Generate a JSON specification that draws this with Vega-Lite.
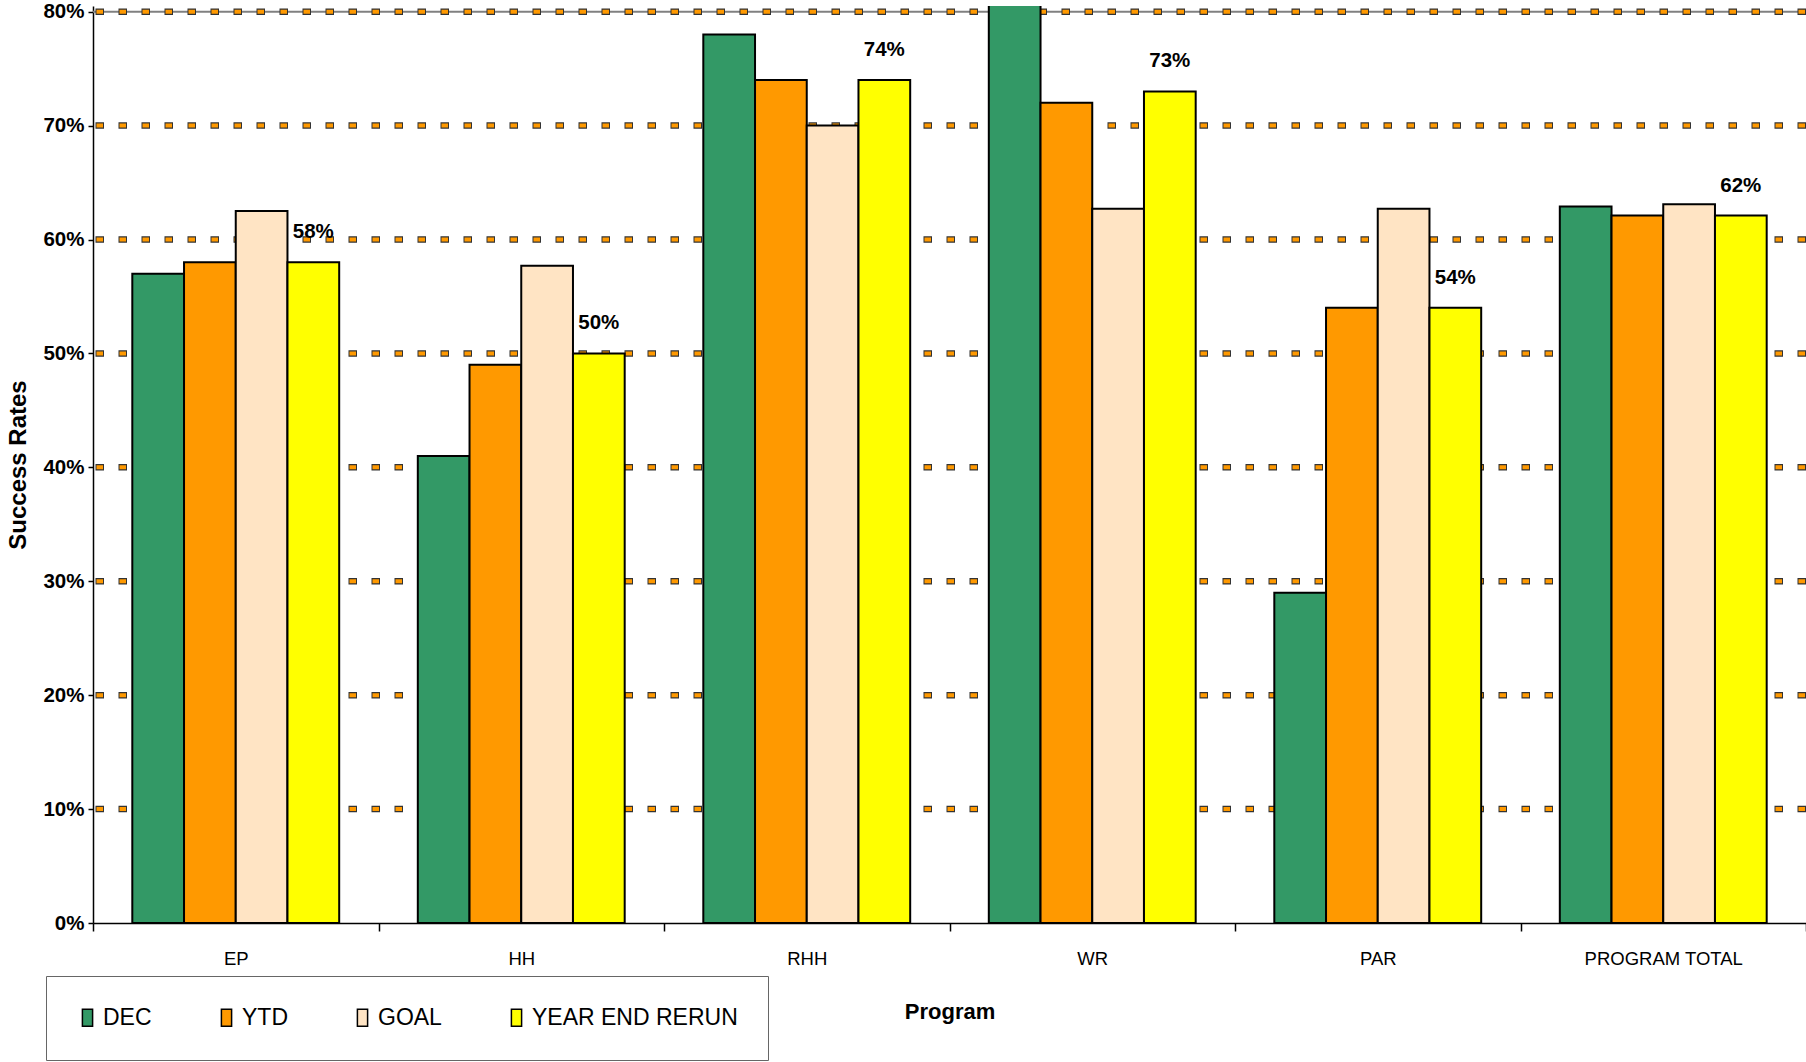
{
  "$schema": "https://vega.github.io/schema/vega-lite/v6.json",
  "autosize": {"type": "none"},
  "width": 1713,
  "height": 917,
  "padding": {"left": 93, "top": 6, "right": 0, "bottom": 139},
  "background": "white",
  "config": {
    "view": {"stroke": null},
    "font": "Liberation Sans"
  },
  "layer": [
    {
      "data": {"values": [{"v": 0.8}]},
      "mark": {"type": "rule", "color": "#808080", "strokeWidth": 2},
      "encoding": {"y": {"field": "v", "type": "quantitative"}}
    },
    {
      "data": {"values": [{"v": 0.1}, {"v": 0.2}, {"v": 0.3}, {"v": 0.4}, {"v": 0.5}, {"v": 0.6}, {"v": 0.7}, {"v": 0.8}]},
      "mark": {"type": "rule", "color": "#333333", "strokeWidth": 6.5, "strokeDash": [8.5, 14.5]},
      "encoding": {"y": {"field": "v", "type": "quantitative"}}
    },
    {
      "data": {"values": [{"v": 0.1}, {"v": 0.2}, {"v": 0.3}, {"v": 0.4}, {"v": 0.5}, {"v": 0.6}, {"v": 0.7}, {"v": 0.8}]},
      "mark": {"type": "rule", "color": "#FF9900", "strokeWidth": 4, "strokeDash": [6.5, 16.5], "strokeDashOffset": -1},
      "encoding": {"y": {"field": "v", "type": "quantitative"}}
    },
    {
      "data": {"name": "bars"},
      "mark": {"type": "bar", "stroke": "black", "strokeWidth": 2, "clip": true},
      "encoding": {
        "x": {
          "field": "program", "type": "nominal", "sort": ["EP", "HH", "RHH", "WR", "PAR", "PROGRAM TOTAL"],
          "scale": {"paddingInner": 0, "paddingOuter": 0},
          "axis": {
            "title": "Program", "titleFont": "Liberation Sans", "titleFontWeight": "bold", "titleFontSize": 22, "titlePadding": 34,
            "labelFont": "Liberation Sans", "labelFontSize": 18.5, "labelAngle": 0, "labelColor": "black", "labelPadding": 18, "labelLimit": 0,
            "tickBand": "extent", "tickSize": 8, "tickColor": "black", "tickWidth": 1.5,
            "domainColor": "black", "domainWidth": 1.5, "titleColor": "black"
          }
        },
        "xOffset": {"field": "series", "type": "nominal", "sort": ["DEC", "YTD", "GOAL", "YEAR END RERUN"], "scale": {"paddingInner": 0, "paddingOuter": 0.76}},
        "y": {
          "field": "value", "type": "quantitative",
          "scale": {"domain": [0, 0.805], "nice": false, "zero": true},
          "axis": {
            "title": "Success Rates", "titleFont": "Liberation Sans", "titleFontWeight": "bold", "titleFontSize": 24, "titlePadding": 12, "titleColor": "black",
            "values": [0, 0.1, 0.2, 0.3, 0.4, 0.5, 0.6, 0.7, 0.8], "format": ".0%",
            "labelFont": "Liberation Sans", "labelFontWeight": "bold", "labelFontSize": 20.5, "labelColor": "black", "labelPadding": 4,
            "grid": false, "tickSize": 5, "tickColor": "black", "tickWidth": 1.5, "domainColor": "black", "domainWidth": 1.5
          }
        },
        "color": {
          "field": "series", "type": "nominal",
          "scale": {"domain": ["DEC", "YTD", "GOAL", "YEAR END RERUN"], "range": ["#339966", "#FF9900", "#FFE4C4", "#FFFF00"]},
          "legend": {
            "title": null, "orient": "none", "legendX": -47, "legendY": 970, "direction": "horizontal", "columns": 4,
            "padding": 30, "fillColor": "white", "strokeColor": "#666666",
            "symbolType": "M-0.6,-1H0.6V1H-0.6Z", "symbolSize": 289, "symbolStrokeColor": "black", "symbolStrokeWidth": 1.5, "symbolOpacity": 1,
            "labelFont": "Liberation Sans", "labelFontSize": 23, "labelColor": "black", "labelOffset": 4, "columnPadding": 63, "labelLimit": 0
          }
        }
      }
    },
    {
      "data": {"name": "bars"},
      "transform": [{"filter": "datum.series === 'YEAR END RERUN'"}],
      "mark": {"type": "text", "baseline": "bottom", "dy": -20, "font": "Liberation Sans", "fontWeight": "bold", "fontSize": 20.5, "color": "black"},
      "encoding": {
        "x": {"field": "program", "type": "nominal", "sort": ["EP", "HH", "RHH", "WR", "PAR", "PROGRAM TOTAL"]},
        "xOffset": {"field": "series", "type": "nominal", "sort": ["DEC", "YTD", "GOAL", "YEAR END RERUN"]},
        "y": {"field": "value", "type": "quantitative"},
        "text": {"field": "value", "type": "quantitative", "format": ".0%"}
      }
    }
  ],
  "datasets": {
    "bars": [
      {"program": "EP", "series": "DEC", "value": 0.57},
      {"program": "EP", "series": "YTD", "value": 0.58},
      {"program": "EP", "series": "GOAL", "value": 0.625},
      {"program": "EP", "series": "YEAR END RERUN", "value": 0.58},
      {"program": "HH", "series": "DEC", "value": 0.41},
      {"program": "HH", "series": "YTD", "value": 0.49},
      {"program": "HH", "series": "GOAL", "value": 0.577},
      {"program": "HH", "series": "YEAR END RERUN", "value": 0.50},
      {"program": "RHH", "series": "DEC", "value": 0.78},
      {"program": "RHH", "series": "YTD", "value": 0.74},
      {"program": "RHH", "series": "GOAL", "value": 0.70},
      {"program": "RHH", "series": "YEAR END RERUN", "value": 0.74},
      {"program": "WR", "series": "DEC", "value": 0.85},
      {"program": "WR", "series": "YTD", "value": 0.72},
      {"program": "WR", "series": "GOAL", "value": 0.627},
      {"program": "WR", "series": "YEAR END RERUN", "value": 0.73},
      {"program": "PAR", "series": "DEC", "value": 0.29},
      {"program": "PAR", "series": "YTD", "value": 0.54},
      {"program": "PAR", "series": "GOAL", "value": 0.627},
      {"program": "PAR", "series": "YEAR END RERUN", "value": 0.54},
      {"program": "PROGRAM TOTAL", "series": "DEC", "value": 0.629},
      {"program": "PROGRAM TOTAL", "series": "YTD", "value": 0.621},
      {"program": "PROGRAM TOTAL", "series": "GOAL", "value": 0.631},
      {"program": "PROGRAM TOTAL", "series": "YEAR END RERUN", "value": 0.621}
    ]
  }
}
